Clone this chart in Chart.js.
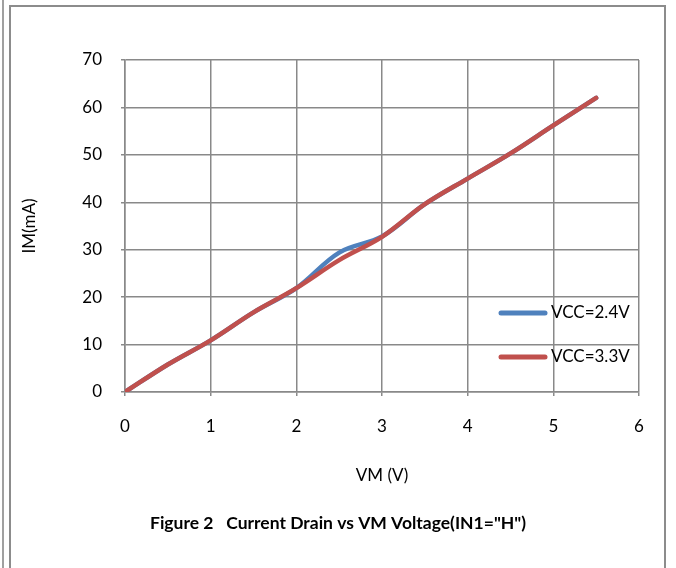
<!DOCTYPE html>
<html>
<head>
<meta charset="utf-8">
<script src="https://cdn.jsdelivr.net/npm/chart.js@4"></script>
<style>
  html, body { margin: 0; padding: 0; background: #fff; }
  #wrap { position: relative; width: 676px; height: 568px; overflow: hidden; }
  #edge { position: absolute; left: 2px; top: 0; width: 2px; height: 568px; background: #a0a0a0; }
  #frame { position: absolute; left: 9px; top: 5px; width: 657px; height: 620px; border: 2px solid #8c8c8c; box-sizing: border-box; }
  canvas { position: absolute; left: 0; top: 0; }
</style>
</head>
<body>
<div id="wrap">
  <div id="edge"></div>
  <div id="frame"></div>
  <canvas id="c" width="676" height="568"></canvas>
</div>
<script>
const vm = [0, 0.5, 1, 1.5, 2, 2.5, 3, 3.5, 4, 4.5, 5, 5.5];
const im24 = [0, 5.8, 10.9, 16.8, 21.9, 29.4, 32.8, 39.6, 45, 50.3, 56.2, 62];
const im33 = [0, 5.8, 10.9, 16.8, 21.9, 27.8, 32.7, 39.6, 45, 50.3, 56.2, 62];
const seriesLabels = ['VCC=2.4V', 'VCC=3.3V'];
const xTitle = 'VM (V)';
const yTitle = 'IM(mA)';
const caption = 'Figure 2   Current Drain vs VM Voltage(IN1="H")';

const FONT = 'Lato, "Open Sans", sans-serif';
const GRID = '#898989';

const legendPlugin = {
  id: 'inlineLegend',
  afterDatasetsDraw(chart) {
    const ctx = chart.ctx;
    const rows = [313, 357];
    chart.data.datasets.forEach((ds, i) => {
      const y = rows[i];
      ctx.save();
      ctx.strokeStyle = ds.borderColor;
      ctx.lineWidth = 5;
      ctx.lineCap = 'round';
      ctx.beginPath();
      ctx.moveTo(501, y);
      ctx.lineTo(545, y);
      ctx.stroke();
      ctx.fillStyle = '#000';
      ctx.font = '17px ' + FONT;
      ctx.textBaseline = 'middle';
      ctx.textAlign = 'left';
      ctx.fillText(ds.label, 551, y);
      ctx.restore();
    });
  }
};

const captionPlugin = {
  id: 'caption',
  afterDraw(chart) {
    const ctx = chart.ctx;
    ctx.save();
    ctx.fillStyle = '#000';
    ctx.font = 'bold 17.5px ' + FONT;
    ctx.textAlign = 'center';
    ctx.textBaseline = 'middle';
    ctx.fillText(caption, 338, 523);
    ctx.restore();
  }
};

new Chart(document.getElementById('c'), {
  type: 'line',
  data: {
    datasets: [
      {
        label: seriesLabels[0],
        data: vm.map((x, i) => ({ x, y: im24[i] })),
        borderColor: '#4F81BD',
        backgroundColor: '#4F81BD',
        borderWidth: 4.5,
        borderCapStyle: 'round',
        pointRadius: 0,
        tension: 0.35,
        fill: false,
        order: 1
      },
      {
        label: seriesLabels[1],
        data: vm.map((x, i) => ({ x, y: im33[i] })),
        borderColor: '#C0504D',
        backgroundColor: '#C0504D',
        borderWidth: 4.5,
        borderCapStyle: 'round',
        pointRadius: 0,
        tension: 0.35,
        fill: false,
        order: 0
      }
    ]
  },
  options: {
    responsive: false,
    animation: false,
    devicePixelRatio: 1,
    layout: { padding: { left: 0, right: 37, top: 60, bottom: 0 } },
    plugins: {
      legend: { display: false },
      tooltip: { enabled: false },
      title: { display: false }
    },
    scales: {
      x: {
        type: 'linear',
        min: 0,
        max: 6,
        afterFit(s) { s.height = 176; },
        ticks: { stepSize: 1, color: '#000', font: { family: FONT, size: 17 }, padding: 20 },
        grid: { color: GRID, lineWidth: 1.5, tickLength: 4 },
        border: { color: GRID, width: 1.5 },
        title: { display: true, text: xTitle, color: '#000', font: { family: FONT, size: 17 }, padding: { top: 0, bottom: 82 } }
      },
      y: {
        min: 0,
        max: 70,
        afterFit(s) { s.width = 125; },
        ticks: { stepSize: 10, color: '#000', font: { family: FONT, size: 17 }, padding: 19 },
        grid: { color: GRID, lineWidth: 1.5, tickLength: 4 },
        border: { color: GRID, width: 1.5 },
        title: { display: true, text: yTitle, color: '#000', font: { family: FONT, size: 17 }, padding: { top: 19, bottom: 0 } }
      }
    }
  },
  plugins: [legendPlugin, captionPlugin]
});
</script>
</body>
</html>
